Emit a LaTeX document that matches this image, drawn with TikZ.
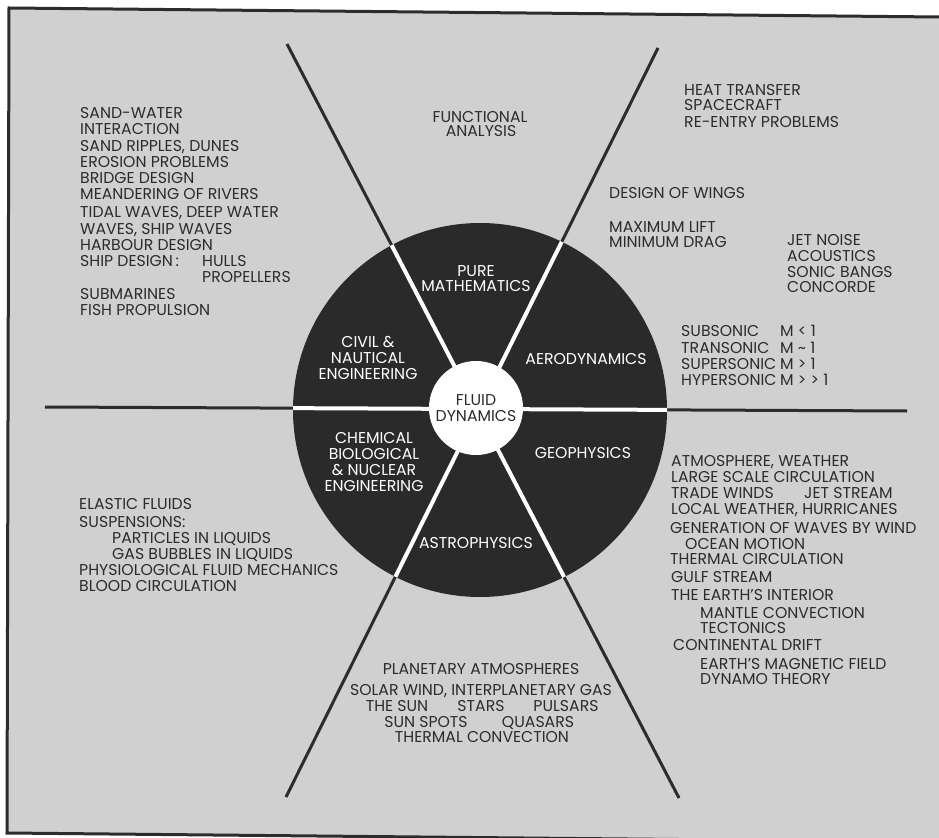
\documentclass[tikz,border=0pt]{standalone}
\usepackage{fontspec}
\setmainfont{Poppins}
\definecolor{paper}{RGB}{208,208,208}
\definecolor{ink}{RGB}{44,44,44}
\definecolor{disc}{RGB}{42,42,42}
\newcommand{\listfont}{\fontsize{13.4}{13.6}\selectfont}
\tikzset{
  item/.style={anchor=base west, inner sep=0pt, text=ink, font=\listfont},
  citem/.style={anchor=base, inner sep=0pt, text=ink, font=\listfont},
  sector/.style={anchor=base, align=center, inner sep=0pt, text=white, font=\listfont},
  spoke/.style={draw=ink, line width=0.9mm},
  gap/.style={draw=white, line width=1.2mm},
}
\begin{document}
\begin{tikzpicture}[x=0.3mm, y=-0.3mm]
    \useasboundingbox (0,0) rectangle (939,838);
    \clip (0,0) rectangle (939,838);
    % the sheet and its frame
    \fill[paper] (9,8) -- (939,17) -- (939,842) -- (7,833) -- cycle;
    \draw[ink, line width=0.9mm] (939,17) -- (9,8) -- (7,833) -- (939,842);
    % spokes
    \coordinate (nw) at (287,44);
    \coordinate (se) at (679,798);
    \coordinate (ne) at (658,48);
    \coordinate (sw) at (286,797);
    \coordinate (w) at (45,407);
    \coordinate (e) at (907,411);
    \draw[spoke] (nw) -- (se);
    \draw[spoke] (ne) -- (sw);
    \draw[spoke] (w) -- (e);
    \fill[disc] (480,410) circle (187);
    \begin{scope}
        \clip (480,410) circle (187);
        \draw[gap] (nw) -- (se);
        \draw[gap] (ne) -- (sw);
        \draw[gap] (w) -- (e);
    \end{scope}
    \node[circle, fill=white, minimum size=28.2mm, inner sep=0pt, align=center,
        text=ink, font=\listfont] (hub) at (476,408) {FLUID\\DYNAMICS};
    % the fields (a node's base is its last line)
    \node[sector] (pure) at (476,292) {PURE\\MATHEMATICS};
    \node[sector] (civil) at (368,379) {CIVIL \&\\NAUTICAL\\ENGINEERING};
    \node[sector] (chem) at (374,491) {CHEMICAL\\BIOLOGICAL\\\& NUCLEAR\\ENGINEERING};
    \node[sector] (aero) at (586,364) {AERODYNAMICS};
    \node[sector] (geo) at (583,458) {GEOPHYSICS};
    \node[sector] (astro) at (476,548) {ASTROPHYSICS};
    % civil & nautical
    \foreach \xx/\yy/\tx [count=\i] in {80/119/SAND-WATER, 80/135/INTERACTION,
        80/152/{SAND RIPPLES, DUNES}, 80/168/EROSION PROBLEMS, 80/184/BRIDGE DESIGN,
        80/200/MEANDERING OF RIVERS, 80/218/{TIDAL WAVES, DEEP WATER},
        80/235/{WAVES, SHIP WAVES}, 80/251/HARBOUR DESIGN, 80/267/SHIP DESIGN\,:,
        202/267/HULLS, 202/283/PROPELLERS, 80/300/SUBMARINES, 80/315/FISH PROPULSION}
        \node[item] (civ\i) at (\xx,\yy) {\tx};
    % pure mathematics
    \node[citem] (func1) at (480,123) {FUNCTIONAL};
    \node[citem] (func2) at (481,137) {ANALYSIS};
    % aerodynamics
    \foreach \xx/\yy/\tx [count=\i] in {684/96/HEAT TRANSFER, 684/111/SPACECRAFT,
        684/128/RE-ENTRY PROBLEMS, 609/199/DESIGN OF WINGS, 609/233/MAXIMUM LIFT,
        609/248/MINIMUM DRAG, 787/246/JET NOISE, 787/262/ACOUSTICS,
        787/278/SONIC BANGS, 787/293/CONCORDE, 681/337/SUBSONIC, 681/353/TRANSONIC,
        681/369/SUPERSONIC, 681/385/HYPERSONIC, 780/337/M < 1,
        780/353/M \textasciitilde\ 1, 780/369/M > 1, 780/385/M > > 1}
        \node[item] (aer\i) at (\xx,\yy) {\tx};
    % geophysics
    \foreach \xx/\yy/\tx [count=\i] in {671/466/{ATMOSPHERE, WEATHER},
        671/482/LARGE SCALE CIRCULATION, 671/498/TRADE WINDS, 804/498/JET STREAM,
        671/514/{LOCAL WEATHER, HURRICANES}, 670/533/GENERATION OF WAVES BY WIND,
        685/549/OCEAN MOTION, 670/564/THERMAL CIRCULATION, 671/582/GULF STREAM,
        671/600/THE EARTH'S INTERIOR, 700/618/MANTLE CONVECTION, 700/633/TECTONICS,
        673/650/CONTINENTAL DRIFT, 700/669/EARTH'S MAGNETIC FIELD,
        700/684/DYNAMO THEORY}
        \node[item] (geo\i) at (\xx,\yy) {\tx};
    % chemical, biological & nuclear
    \foreach \xx/\yy/\tx [count=\i] in {79/509/ELASTIC FLUIDS, 79/527/SUSPENSIONS:,
        112/543/PARTICLES IN LIQUIDS, 112/559/GAS BUBBLES IN LIQUIDS,
        79/575/PHYSIOLOGICAL FLUID MECHANICS, 79/591/BLOOD CIRCULATION}
        \node[item] (chm\i) at (\xx,\yy) {\tx};
    % astrophysics
    \foreach \xx/\yy/\tx [count=\i] in {481/674/PLANETARY ATMOSPHERES,
        481/695/{SOLAR WIND, INTERPLANETARY GAS}, 397/711/THE SUN, 481/711/STARS,
        566/711/PULSARS, 426/727/SUN SPOTS, 538/727/QUASARS,
        482/742/THERMAL CONVECTION}
        \node[citem] (ast\i) at (\xx,\yy) {\tx};
\end{tikzpicture}
\end{document}
